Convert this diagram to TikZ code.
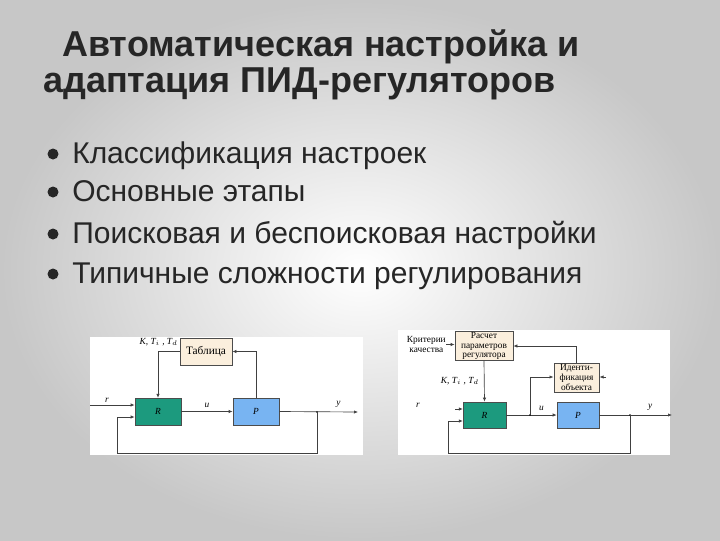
\documentclass[tikz,border=0pt]{standalone}
\usepackage{fontspec}
\setmainfont{Liberation Sans}
\newfontfamily\serif{Liberation Serif}
\usetikzlibrary{arrows.meta}
\definecolor{rteal}{HTML}{1C9A7E}
\definecolor{pblue}{HTML}{78B4F2}
\definecolor{tcol}{HTML}{FBEFDD}
\begin{document}
\begin{tikzpicture}[x=0.75pt,y=-0.75pt,
  blk/.style={draw=black!70,line width=0.5pt,minimum width=0pt},
  ln/.style={draw=black!75,line width=0.5pt},
  ar/.style={ln,-{Latex[length=3pt,width=2.5pt]}},
  lab/.style={font=\serif\itshape\fontsize{7}{8}\selectfont,inner sep=0pt},
  txt/.style={font=\serif\fontsize{7}{7.3}\selectfont,align=center,inner sep=0pt}]
\shade[inner color=white,outer color=black!22] (0,0) rectangle (720,540);
\useasboundingbox (0,0) rectangle (720,540);
\node[anchor=base west,inner sep=0,font=\bfseries\fontsize{27}{30}\selectfont,text=black!85] (t1) at (62,56) {Автоматическая настройка и};
\node[anchor=base west,inner sep=0,font=\bfseries\fontsize{27}{30}\selectfont,text=black!85] (t2) at (43,92) {адаптация ПИД-регуляторов};
\foreach \y/\t [count=\i] in {163/Классификация настроек,201/Основные этапы,243/Поисковая и беспоисковая настройки,283/Типичные сложности регулирования}{
  \node[anchor=base west,inner sep=0,font=\fontsize{22.5}{25}\selectfont,text=black!85] (b\i) at (72,\y) {\t};
  \fill[black!85] (53,\y-9) circle (5.5);
}
% panels
\fill[white] (90,337) rectangle (363,455);
\fill[white] (398,330) rectangle (670,455);
% left diagram
\node[blk,fill=tcol,minimum width=39pt,minimum height=20pt,txt,font=\serif\fontsize{8.5}{9}\selectfont] (tab) at (206,351.5) {Таблица};
\node[blk,fill=rteal,minimum width=34.5pt,minimum height=20pt,lab] (R1) at (158,411.5) {R};
\node[blk,fill=pblue,minimum width=34.5pt,minimum height=20pt,lab] (P1) at (256,411.5) {P};
\node[lab,anchor=south east] (k1) at (178,346) {K, T$_i$ , T$_d$};
\coordinate (in1) at (90,405);
\coordinate (in1b) at (117,417);
\coordinate (j1) at (317,412);
\coordinate (o1) at (358,412);
\draw[ar] (in1) -- (R1.west|-in1);
\node[lab] (r1) at (107,400) {r};
\draw[ar] (R1) -- node[lab,above=3pt]{u} (P1);
\draw[ar] (P1.east) -- (o1) node[lab,pos=0.75,above=3pt]{y};
\fill (j1) circle (0.9);
\draw[ar] (j1) -- (317,453) -- (117,453) -- (in1b) -- (R1.west|-in1b);
\draw[ar] (P1.north) |- (tab.east);
\draw[ar] (tab.west) -| (R1.north);
% right diagram
\node[blk,fill=tcol,minimum width=43.5pt,minimum height=22pt,txt] (calc) at (484,346) {Расчет\\параметров\\регулятора};
\node[blk,fill=tcol,minimum width=34pt,minimum height=22pt,txt] (id) at (576.5,377.5) {Иденти-\\фикация\\объекта};
\node[blk,fill=rteal,minimum width=32pt,minimum height=19.5pt,lab] (R2) at (484.5,415) {R};
\node[blk,fill=pblue,minimum width=31.5pt,minimum height=19.5pt,lab] (P2) at (578,415) {P};
\node[txt,anchor=east] (crit) at (446,344.5) {Критерии\\качества};
\draw[ar] (crit.east) -- (calc.west|-crit.east);
\draw[ar] (calc.south) -- (R2.north);
\node[lab] (k2) at (460,381) {K, T$_i$ , T$_d$};
\node[lab] (r2) at (418,405) {r};
\coordinate (in2) at (455,409);
\draw[ar] (in2) -- (R2.west|-in2);
\coordinate (ju) at (530,415);
\coordinate (jy) at (630,415);
\coordinate (o2) at (672,415);
\draw[ar] (R2) -- (P2) node[lab,pos=0.7,above=3pt]{u};
\draw[ar] (P2.east) -- (o2) node[lab,pos=0.7,above=3pt]{y};
\fill (ju) circle (0.9); \fill (jy) circle (0.9);
\draw[ar] (ju) -- (530,377) -- (id.west|-530,377);
\coordinate (st) at (606,377);
\draw[ar] (st) -- (id.east|-st);
\draw[ar] (id.north) |- (calc.east);
\draw[ar] (jy) -- (630,453) -- (448,453) -- (448,421) -- (R2.west|-448,421);
\end{tikzpicture}
\end{document}
